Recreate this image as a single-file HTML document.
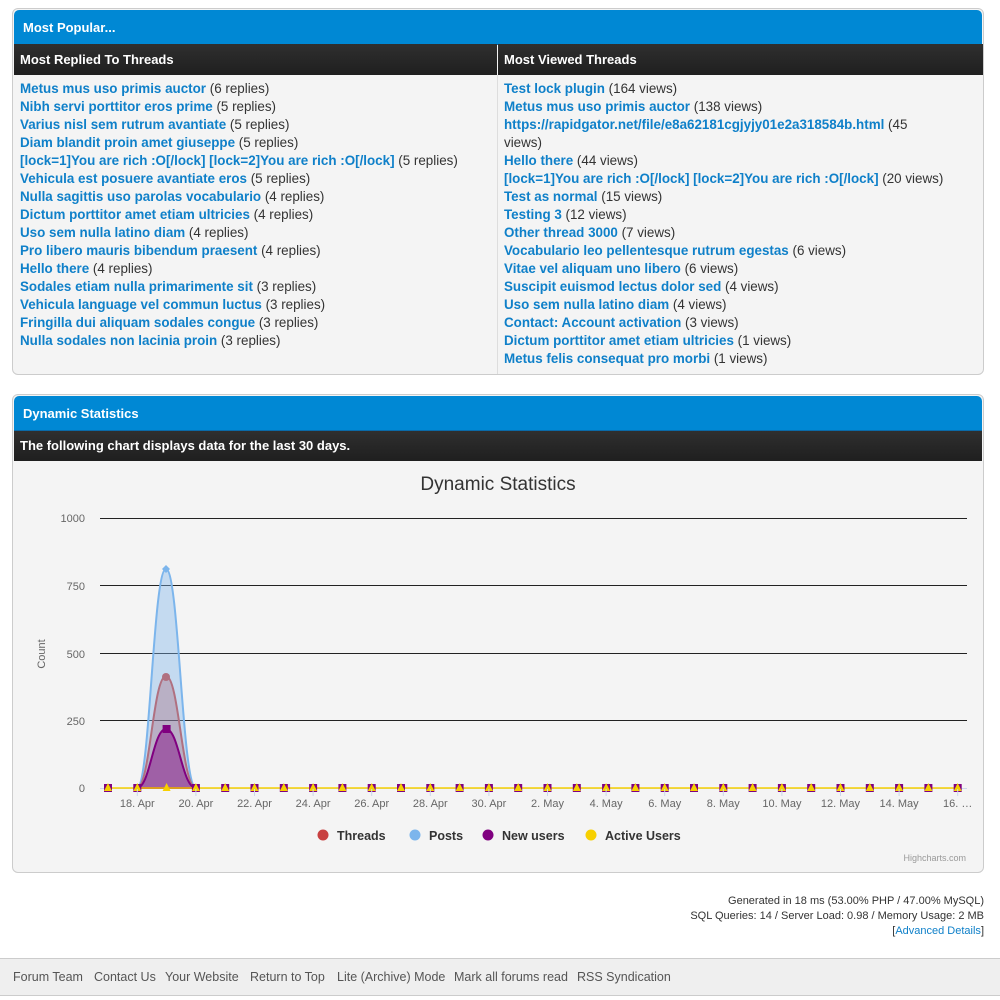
<!DOCTYPE html>
<html><head><meta charset="utf-8"><style>
*{margin:0;padding:0;box-sizing:border-box}
body{width:1000px;height:1000px;background:#fff;font-family:"Liberation Sans",Tahoma,sans-serif;font-size:13px;color:#333;position:relative;overflow:hidden}
.box{position:absolute;left:12px;width:972px;border:1px solid #ccc;border-radius:6px;background:#f4f4f4}
.blue{position:absolute;left:1px;right:1px;background:#0088d4;color:#fff;font-weight:bold;font-size:13px;padding-left:9px;border-radius:5px 5px 0 0;border-bottom:1px solid #0a6aa8}
.dark{position:absolute;background:linear-gradient(#2f2f2f,#1f1f1f);color:#fff;font-weight:bold;font-size:13px;padding-left:6px}
.l{position:absolute;white-space:nowrap;line-height:18px;font-size:13.4px}
.l a{color:#0f80c9;font-weight:bold;text-decoration:none}
.ft{position:absolute;right:16px;text-align:right;font-size:11px;color:#333;line-height:15px}
.nav{position:absolute;left:0;top:958px;width:1000px;height:38px;background:#efefef;border-top:1px solid #ccc;border-bottom:1px solid #ccc;color:#555;font-size:12.5px}
.nav span{position:absolute;top:11px;white-space:nowrap}
</style></head><body>
<div class="box" style="top:8px;height:367px">
 <div class="blue" style="top:1px;height:35px;line-height:35px">Most Popular...</div>
 <div class="dark" style="left:1px;top:35px;width:483px;height:31px;line-height:31px">Most Replied To Threads</div>
 <div class="dark" style="left:485px;top:35px;width:485px;height:31px;line-height:31px">Most Viewed Threads</div>
 <div style="position:absolute;left:484px;top:66px;width:1px;height:299px;background:#ddd"></div>
</div>
<div id="c1"></div>
<div class="box" style="top:394px;height:479px">
 <div class="blue" style="top:1px;height:35px;line-height:35px">Dynamic Statistics</div>
 <div class="dark" style="left:1px;top:36px;width:968px;height:30px;line-height:30px">The following chart displays data for the last 30 days.</div>
</div>
<svg id="ch" style="position:absolute;left:0;top:0" width="1000" height="1000" font-family="Liberation Sans, sans-serif">
 <text x="498" y="490" text-anchor="middle" font-size="19" fill="#333">Dynamic Statistics</text>
 <g stroke="#222" stroke-width="1" shape-rendering="crispEdges">
  <line x1="100" x2="967" y1="518.5" y2="518.5"/><line x1="100" x2="967" y1="585.5" y2="585.5"/>
  <line x1="100" x2="967" y1="653.5" y2="653.5"/><line x1="100" x2="967" y1="720.5" y2="720.5"/>
 </g>
 <line x1="100" x2="967" y1="788.5" y2="788.5" stroke="#ccd6eb"/>
 <g font-size="11" fill="#666" text-anchor="end">
  <text x="85" y="522">1000</text><text x="85" y="590">750</text><text x="85" y="658">500</text><text x="85" y="725">250</text><text x="85" y="792">0</text>
 </g>
 <text transform="translate(45,654) rotate(-90)" font-size="11" fill="#666" text-anchor="middle">Count</text>
 <path d="M137,788 C150,788 153,569 166,569 C179,569 182,788 196,788Z" fill="rgba(124,181,236,0.4)" stroke="#7cb5ec" stroke-width="2"/>
 <path d="M137,788 C150,788 153,676 166,676 C179,676 182,788 196,788Z" fill="rgba(160,80,100,0.3)" stroke="#b07080" stroke-width="2"/>
 <path d="M137,788 C150,788 153,729 166,729 C179,729 182,788 196,788Z" fill="rgba(128,0,128,0.45)" stroke="#800080" stroke-width="2"/>
 <line x1="108" x2="958" y1="788" y2="788" stroke="#f7d000" stroke-width="1.5"/>
 <circle cx="166" cy="677" r="4" fill="#b07080"/>
 <path d="M166,565 L170,569 166,573 162,569Z" fill="#7cb5ec"/>
 <g id="mk"></g>
 <g id="xl" font-size="11" fill="#666" text-anchor="middle"></g>
 <g font-size="12.5" font-weight="bold" fill="#333">
  <circle cx="323" cy="835" r="5.5" fill="#c84040"/><text x="337" y="840">Threads</text>
  <circle cx="415" cy="835" r="5.5" fill="#7cb5ec"/><text x="429" y="840">Posts</text>
  <circle cx="488" cy="835" r="5.5" fill="#800080"/><text x="502" y="840">New users</text>
  <circle cx="591" cy="835" r="5.5" fill="#f7d000"/><text x="605" y="840">Active Users</text>
 </g>
 <text x="966" y="861" font-size="9" fill="#999" text-anchor="end">Highcharts.com</text>
</svg>
<div class="ft" style="top:894px">Generated in 18 ms (53.00% PHP / 47.00% MySQL)</div>
<div class="ft" style="top:909px">SQL Queries: 14 / Server Load: 0.98 / Memory Usage: 2 MB</div>
<div class="ft" style="top:924px">[<span style="color:#0f80c9">Advanced Details</span>]</div>
<div class="nav">
 <span style="left:13px">Forum Team</span><span style="left:94px">Contact Us</span><span style="left:165px">Your Website</span><span style="left:250px">Return to Top</span><span style="left:337px">Lite (Archive) Mode</span><span style="left:454px">Mark all forums read</span><span style="left:577px">RSS Syndication</span>
</div>
<script>
var L=[["Metus mus uso primis auctor","(6 replies)"],["Nibh servi porttitor eros prime","(5 replies)"],["Varius nisl sem rutrum avantiate","(5 replies)"],["Diam blandit proin amet giuseppe","(5 replies)"],["[lock=1]You are rich :O[/lock] [lock=2]You are rich :O[/lock]","(5 replies)"],["Vehicula est posuere avantiate eros","(5 replies)"],["Nulla sagittis uso parolas vocabulario","(4 replies)"],["Dictum porttitor amet etiam ultricies","(4 replies)"],["Uso sem nulla latino diam","(4 replies)"],["Pro libero mauris bibendum praesent","(4 replies)"],["Hello there","(4 replies)"],["Sodales etiam nulla primarimente sit","(3 replies)"],["Vehicula language vel commun luctus","(3 replies)"],["Fringilla dui aliquam sodales congue","(3 replies)"],["Nulla sodales non lacinia proin","(3 replies)"]];
var R=[["Test lock plugin","(164 views)"],["Metus mus uso primis auctor","(138 views)"],["https://rapidgator.net/file/e8a62181cgjyjy01e2a318584b.html","(45"],["","views)"],["Hello there","(44 views)"],["[lock=1]You are rich :O[/lock] [lock=2]You are rich :O[/lock]","(20 views)"],["Test as normal","(15 views)"],["Testing 3","(12 views)"],["Other thread 3000","(7 views)"],["Vocabulario leo pellentesque rutrum egestas","(6 views)"],["Vitae vel aliquam uno libero","(6 views)"],["Suscipit euismod lectus dolor sed","(4 views)"],["Uso sem nulla latino diam","(4 views)"],["Contact: Account activation","(3 views)"],["Dictum porttitor amet etiam ultricies","(1 views)"],["Metus felis consequat pro morbi","(1 views)"]];
var h="";
L.forEach(function(r,i){h+='<div class="l" style="left:20px;top:'+(80+i*18)+'px"><a>'+r[0]+'</a> '+r[1]+'</div>';});
R.forEach(function(r,i){h+='<div class="l" style="left:504px;top:'+(80+i*18)+'px">'+(r[0]?'<a>'+r[0]+'</a> ':'')+r[1]+'</div>';});
document.getElementById("c1").innerHTML=h;
var m="",x="";
for(var i=0;i<30;i++){var px=108+i*29.3;
 if(i!=2)m+='<rect x="'+(px-4)+'" y="784" width="8" height="8" fill="#800080"/>';
 else m+='<rect x="'+(px-4)+'" y="725" width="8" height="8" fill="#800080"/>';
 m+='<path d="M'+px+',783 L'+(px+4)+',791 '+(px-4)+',791Z" fill="#f7d000"/>';}
var labs=["18. Apr","20. Apr","22. Apr","24. Apr","26. Apr","28. Apr","30. Apr","2. May","4. May","6. May","8. May","10. May","12. May","14. May","16. …"];
labs.forEach(function(t,k){var px=137.3+k*58.6;x+='<line x1="'+px+'" x2="'+px+'" y1="789" y2="796" stroke="#ccd6eb"/><text x="'+px+'" y="807">'+t+'</text>';});
document.getElementById("mk").innerHTML=m;document.getElementById("xl").innerHTML=x;
</script>
</body></html>
